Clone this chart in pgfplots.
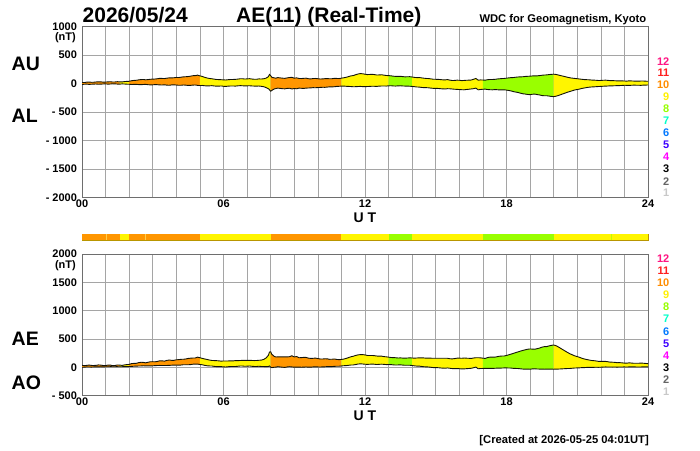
\documentclass[border=0pt]{standalone}
\usepackage{pgfplots}
\pgfplotsset{compat=1.18}
\usepgfplotslibrary{fillbetween}
\usepackage{pgfplotstable}
\usepackage{fontspec}
\setmainfont{Liberation Sans}

\definecolor{cO}{RGB}{255,150,0}
\definecolor{cY}{RGB}{255,245,0}
\definecolor{cG}{RGB}{153,255,0}
\definecolor{cL}{RGB}{255,205,70}
\definecolor{n12}{RGB}{255,20,130}
\definecolor{n11}{RGB}{255,30,30}
\definecolor{n10}{RGB}{255,140,0}
\definecolor{n9}{RGB}{255,240,0}
\definecolor{n8}{RGB}{150,255,0}
\definecolor{n7}{RGB}{0,255,200}
\definecolor{n6}{RGB}{0,120,255}
\definecolor{n5}{RGB}{60,0,255}
\definecolor{n4}{RGB}{255,0,255}
\definecolor{n3}{RGB}{0,0,0}
\definecolor{n2}{RGB}{100,100,100}
\definecolor{n1}{RGB}{200,200,200}
\definecolor{gridc}{RGB}{165,165,165}
\definecolor{framec}{RGB}{110,110,110}
\definecolor{barframe}{RGB}{185,150,0}
\definecolor{linec}{RGB}{20,20,10}

\pgfplotstableread{
t AU AL AE AO
0.0 20 -15 35 2.5
0.1 18 -12 30 3
0.2 25 -10 35 7.5
0.3 27 -14 41 6.5
0.4 22 -12 34 5
0.5 24 -9 33 7.5
0.6 28 -8 36 10
0.7 31 -12 43 9.5
0.8 30 -10 40 10
0.9 25 -7 32 9
1.0 26 -6 32 10
1.1 30 -10 40 10
1.2 32 -8 40 12
1.3 27 -4 31 11.5
1.4 28 -5 33 11.5
1.5 33 -9 42 12
1.6 30 -10 40 10
1.7 29 -6 35 11.5
1.8 35 -8 43 13.5
1.9 38 -11 49 13.5
2.0 40 -12 52 14
2.1 50 -16 66 17
2.2 55 -15 70 20
2.3 58 -13 71 22.5
2.4 65 -18 83 23.5
2.5 70 -20 90 25
2.6 72 -16 88 28
2.7 66 -14 80 26
2.8 70 -20 90 25
2.9 76 -23 99 26.5
3.0 78 -22 100 28
3.1 80 -18 98 31
3.2 85 -20 105 32.5
3.3 92 -24 116 34
3.4 90 -25 115 32.5
3.5 88 -22 110 33
3.6 95 -28 123 33.5
3.7 100 -30 130 35
3.8 100 -24 124 38
3.9 102 -22 124 40
4.0 108 -26 134 41
4.1 106 -30 136 38
4.2 112 -30 142 41
4.3 118 -25 143 46.5
4.4 120 -28 148 46
4.5 124 -33 157 45.5
4.6 130 -32 162 49
4.7 138 -27 165 55.5
4.8 140 -25 165 57.5
4.9 148 -32 180 58
5.0 135 -35 170 50
5.1 125 -33 158 46
5.2 110 -38 148 36
5.3 98 -42 140 28
5.4 90 -40 130 25
5.5 85 -37 122 24
5.6 78 -42 120 18
5.7 72 -46 118 13
5.8 70 -45 115 12.5
5.9 68 -42 110 13
6.0 65 -48 113 8.5
6.1 63 -50 113 6.5
6.2 68 -45 113 11.5
6.3 72 -43 115 14.5
6.4 72 -42 114 15
6.5 74 -45 119 14.5
6.6 78 -40 118 19
6.7 84 -37 121 23.5
6.8 85 -38 123 23.5
6.9 80 -42 122 19
7.0 82 -40 122 21
7.1 86 -38 124 24
7.2 80 -42 122 19
7.3 76 -44 120 16
7.4 76 -45 121 15.5
7.5 82 -43 125 19.5
7.6 80 -48 128 16
7.7 84 -55 139 14.5
7.8 95 -70 165 12.5
7.9 120 -90 210 15
7.95 160 -110 270 25
8.0 140 -135 275 2.5
8.05 110 -120 230 -5
8.15 100 -95 195 2.5
8.22 95 -88 183 3.5
8.3 105 -80 185 12.5
8.4 100 -85 185 7.5
8.5 95 -90 185 2.5
8.6 92 -93 185 -0.5
8.7 100 -85 185 7.5
8.8 106 -82 188 12
8.9 110 -95 205 7.5
9.0 95 -88 183 3.5
9.1 100 -92 192 4
9.2 90 -80 170 5
9.3 88 -83 171 2.5
9.4 92 -85 177 3.5
9.5 95 -80 175 7.5
9.6 85 -78 163 3.5
9.7 82 -76 158 3
9.8 88 -72 160 8
9.9 90 -74 164 8
10.0 85 -70 155 7.5
10.1 80 -68 148 6
10.2 82 -65 147 8.5
10.3 86 -66 152 10
10.4 88 -62 150 13
10.5 84 -58 142 13
10.6 85 -58 143 13.5
10.7 92 -56 148 18
10.8 90 -50 140 20
10.9 88 -48 136 20
11.0 95 -45 140 25
11.1 102 -44 146 29
11.2 110 -48 158 31
11.3 122 -50 172 36
11.4 135 -52 187 41.5
11.5 140 -56 196 42
11.6 155 -55 210 50
11.7 168 -52 220 58
11.8 175 -50 225 62.5
11.9 172 -53 225 59.5
12.0 165 -55 220 55
12.1 158 -52 210 53
12.2 160 -50 210 55
12.3 163 -47 210 58
12.4 158 -48 206 55
12.5 150 -50 200 50
12.6 152 -45 197 53.5
12.7 155 -43 198 56
12.8 148 -42 190 53
12.9 142 -44 186 49
13.0 140 -40 180 50
13.1 136 -38 174 49
13.2 130 -42 172 44
13.3 126 -44 170 41
13.4 125 -40 165 42.5
13.5 128 -39 167 44.5
13.6 122 -42 164 40
13.7 118 -44 162 37
13.8 120 -45 165 37.5
13.9 121 -47 168 37
14.0 115 -50 165 32.5
14.1 108 -55 163 26.5
14.2 105 -60 165 22.5
14.3 106 -62 168 22
14.4 100 -68 168 16
14.5 94 -72 166 11
14.6 90 -72 162 9
14.7 88 -75 163 6.5
14.8 82 -80 162 1
14.9 76 -84 160 -4
15.0 75 -85 160 -5
15.1 74 -86 160 -6
15.2 70 -90 160 -10
15.3 66 -94 160 -14
15.4 65 -95 160 -15
15.5 70 -90 160 -10
15.6 60 -92 152 -16
15.7 54 -96 150 -21
15.8 55 -100 155 -22.5
15.9 60 -102 162 -21
16.0 58 -105 163 -23.5
16.1 52 -108 160 -28
16.2 55 -110 165 -27.5
16.3 58 -104 162 -23
16.4 60 -100 160 -20
16.5 62 -95 157 -16.5
16.6 75 -90 165 -7.5
16.7 90 -80 170 5
16.8 60 -110 170 -25
16.9 64 -104 168 -20
17.0 62 -100 162 -19
17.1 60 -98 158 -19
17.2 68 -105 173 -18.5
17.3 72 -108 180 -18
17.4 72 -110 182 -19
17.5 74 -106 180 -16
17.6 80 -108 188 -14
17.7 84 -112 196 -14
17.8 88 -112 200 -12
17.9 90 -110 200 -10
18.0 95 -115 210 -10
18.1 100 -122 222 -11
18.2 105 -130 235 -12.5
18.3 106 -142 248 -18
18.4 112 -150 262 -19
18.5 116 -158 274 -21
18.6 118 -170 288 -26
18.7 120 -180 300 -30
18.8 125 -185 310 -30
18.9 128 -192 320 -32
19.0 130 -195 325 -32.5
19.1 134 -188 322 -27
19.2 135 -185 320 -25
19.3 136 -194 330 -29
19.4 140 -200 340 -30
19.5 146 -210 356 -32
19.6 150 -215 365 -32.5
19.7 152 -214 366 -31
19.8 158 -220 378 -31
19.9 162 -226 388 -32
20.0 165 -230 395 -32.5
20.1 160 -222 382 -31
20.2 150 -210 360 -30
20.3 140 -195 335 -27.5
20.4 130 -180 310 -25
20.5 120 -165 285 -22.5
20.6 110 -150 260 -20
20.7 100 -138 238 -19
20.8 95 -125 220 -15
20.9 90 -112 202 -11
21.0 85 -105 190 -10
21.1 80 -96 176 -8
21.2 75 -85 160 -5
21.3 70 -78 148 -4
21.4 68 -70 138 -1
21.5 66 -64 130 1
21.6 62 -60 122 1
21.7 60 -58 118 1
21.8 58 -55 113 1.5
21.9 54 -52 106 1
22.0 55 -50 105 2.5
22.1 58 -47 105 5.5
22.2 60 -45 105 7.5
22.3 56 -43 99 6.5
22.4 52 -40 92 6
22.5 51 -40 91 5.5
22.6 50 -38 88 6
22.7 46 -36 82 5
22.8 48 -35 83 6.5
22.9 47 -33 80 7
23.0 45 -30 75 7.5
23.1 43 -31 74 6
23.2 48 -32 80 8
23.3 46 -30 76 8
23.4 44 -28 72 8
23.5 43 -29 72 7
23.6 42 -30 72 6
23.7 45 -31 76 7
23.8 45 -28 73 8.5
23.9 42 -27 69 7.5
24.0 40 -25 65 7.5
}\data

\pgfplotsset{
  aestyle/.style={
    scale only axis, width=566pt,
    xmin=0, xmax=24,
    xtick={0,6,12,18,24}, xticklabels={00,06,12,18,24},
    minor x tick num=5,
    grid=both,
    major grid style={gridc, line width=0.6pt},
    minor grid style={gridc, line width=0.6pt},
    axis line style={framec, line width=0.7pt},
    tick style={draw=none},
    ticklabel style={font=\fontsize{11}{12}\selectfont\bfseries},
    yticklabel style={xshift=-1.5pt},
    xticklabel style={yshift=1.5pt},
    /pgf/number format/assume math mode=true,
  },
  barstyle/.style={
    scale only axis, width=566pt, height=6pt,
    xmin=0, xmax=24, ymin=0, ymax=1,
    xtick=\empty, ytick=\empty,
    axis line style={barframe, line width=0.5pt},
  }
}

\newcommand{\lbl}[1]{\fontsize{#1}{#1}\selectfont\bfseries}

\begin{document}
\begin{tikzpicture}[x=1pt,y=1pt]

% ---------------- top panel: AU / AL ----------------
\begin{axis}[aestyle, at={(82pt,252.7pt)}, anchor=south west, height=170.6pt,
  ymin=-2000, ymax=1000,
  ytick={-2000,-1500,-1000,-500,0,500,1000},
  yticklabels={- 2000,- 1500,- 1000,- 500,0,500,1000}]
\addplot[draw=none, name path=AU] table[x=t,y=AU]{\data};
\addplot[draw=none, name path=AL] table[x=t,y=AL]{\data};
\addplot[fill=cO, draw=none] fill between[of=AU and AL, soft clip={domain=0:1.6}];
\addplot[fill=cY, draw=none] fill between[of=AU and AL, soft clip={domain=1.6:2}];
\addplot[fill=cO, draw=none] fill between[of=AU and AL, soft clip={domain=2:5}];
\addplot[fill=cY, draw=none] fill between[of=AU and AL, soft clip={domain=5:8}];
\addplot[fill=cO, draw=none] fill between[of=AU and AL, soft clip={domain=8:11}];
\addplot[fill=cY, draw=none] fill between[of=AU and AL, soft clip={domain=11:13}];
\addplot[fill=cG, draw=none] fill between[of=AU and AL, soft clip={domain=13:14}];
\addplot[fill=cY, draw=none] fill between[of=AU and AL, soft clip={domain=14:17}];
\addplot[fill=cG, draw=none] fill between[of=AU and AL, soft clip={domain=17:20}];
\addplot[fill=cY, draw=none] fill between[of=AU and AL, soft clip={domain=20:24}];
\addplot[linec, line width=0.9pt] table[x=t,y=AU]{\data};
\addplot[linec, line width=0.9pt] table[x=t,y=AL]{\data};
\end{axis}

% ---------------- colour bar ----------------
\begin{axis}[barstyle, at={(82pt,210pt)}, anchor=south west]
\addplot[fill=cO, draw=none] coordinates {(0,1) (1.6,1)} \closedcycle;
\addplot[fill=cY, draw=none] coordinates {(1.6,1) (2,1)} \closedcycle;
\addplot[fill=cO, draw=none] coordinates {(2,1) (5,1)} \closedcycle;
\addplot[fill=cY, draw=none] coordinates {(5,1) (8,1)} \closedcycle;
\addplot[fill=cO, draw=none] coordinates {(8,1) (11,1)} \closedcycle;
\addplot[fill=cY, draw=none] coordinates {(11,1) (13,1)} \closedcycle;
\addplot[fill=cG, draw=none] coordinates {(13,1) (14,1)} \closedcycle;
\addplot[fill=cY, draw=none] coordinates {(14,1) (17,1)} \closedcycle;
\addplot[fill=cG, draw=none] coordinates {(17,1) (20,1)} \closedcycle;
\addplot[fill=cY, draw=none] coordinates {(20,1) (24,1)} \closedcycle;
\addplot[fill=cL, draw=none] coordinates {(1.02,1) (1.06,1)} \closedcycle;
\addplot[fill=cL, draw=none] coordinates {(2.69,1) (2.73,1)} \closedcycle;
\addplot[fill=cG!60!cY, draw=none] coordinates {(22.44,1) (22.48,1)} \closedcycle;
\end{axis}

% ---------------- bottom panel: AE / AO ----------------
\begin{axis}[aestyle, at={(82pt,54.3pt)}, anchor=south west, height=141.7pt,
  ymin=-500, ymax=2000,
  ytick={-500,0,500,1000,1500,2000},
  yticklabels={- 500,0,500,1000,1500,2000}]
\addplot[draw=none, name path=AE] table[x=t,y=AE]{\data};
\addplot[draw=none, name path=AO] table[x=t,y=AO]{\data};
\addplot[fill=cO, draw=none] fill between[of=AE and AO, soft clip={domain=0:1.6}];
\addplot[fill=cY, draw=none] fill between[of=AE and AO, soft clip={domain=1.6:2}];
\addplot[fill=cO, draw=none] fill between[of=AE and AO, soft clip={domain=2:5}];
\addplot[fill=cY, draw=none] fill between[of=AE and AO, soft clip={domain=5:8}];
\addplot[fill=cO, draw=none] fill between[of=AE and AO, soft clip={domain=8:11}];
\addplot[fill=cY, draw=none] fill between[of=AE and AO, soft clip={domain=11:13}];
\addplot[fill=cG, draw=none] fill between[of=AE and AO, soft clip={domain=13:14}];
\addplot[fill=cY, draw=none] fill between[of=AE and AO, soft clip={domain=14:17}];
\addplot[fill=cG, draw=none] fill between[of=AE and AO, soft clip={domain=17:20}];
\addplot[fill=cY, draw=none] fill between[of=AE and AO, soft clip={domain=20:24}];
\addplot[linec, line width=0.9pt] table[x=t,y=AE]{\data};
\addplot[linec, line width=0.9pt] table[x=t,y=AO]{\data};
\end{axis}

% ---------------- texts ----------------
\node[anchor=base west, inner sep=0] at (82.5pt,427.3pt) {\lbl{21}2026/05/24};
\node[anchor=base west, inner sep=0] at (236pt,427.3pt) {\lbl{21}AE(11) (Real-Time)};
\node[anchor=base east, inner sep=0] at (646.5pt,427.3pt) {\lbl{11.2}WDC for Geomagnetism, Kyoto};

\node[anchor=west, inner sep=0] at (11.5pt,386.3pt) {\lbl{19.5}AU};
\node[anchor=west, inner sep=0] at (11.5pt,334.5pt) {\lbl{19.5}AL};
\node[anchor=west, inner sep=0] at (11.5pt,111.2pt) {\lbl{19.5}AE};
\node[anchor=west, inner sep=0] at (11.5pt,67.3pt) {\lbl{19.5}AO};

\node[anchor=east, inner sep=0] at (76pt,412pt) {\lbl{11}(nT)};
\node[anchor=east, inner sep=0] at (76pt,184pt) {\lbl{11}(nT)};

\node[inner sep=0] at (365pt,232.4pt) {\lbl{14}U T};
\node[inner sep=0] at (365pt,34pt) {\lbl{14}U T};

\node[anchor=base east, inner sep=0] at (649pt,6.8pt) {\lbl{11.2}[Created at 2026-05-25 04:01UT]};

% legends of station numbers
\foreach \n/\c in {12/n12,11/n11,10/n10,9/n9,8/n8,7/n7,6/n6,5/n5,4/n4,3/n3,2/n2,1/n1}{
  \pgfmathsetmacro{\yt}{450-61.2-(12-\n)*12.0}
  \pgfmathsetmacro{\yb}{450-258.7-(12-\n)*12.1}
  \node[anchor=east, inner sep=0, text=\c] at (669.5pt,\yt pt) {\lbl{11}\n};
  \node[anchor=east, inner sep=0, text=\c] at (669.5pt,\yb pt) {\lbl{11}\n};
}

\pgfresetboundingbox
\path[use as bounding box] (0pt,0pt) rectangle (700pt,450pt);
\end{tikzpicture}
\end{document}
